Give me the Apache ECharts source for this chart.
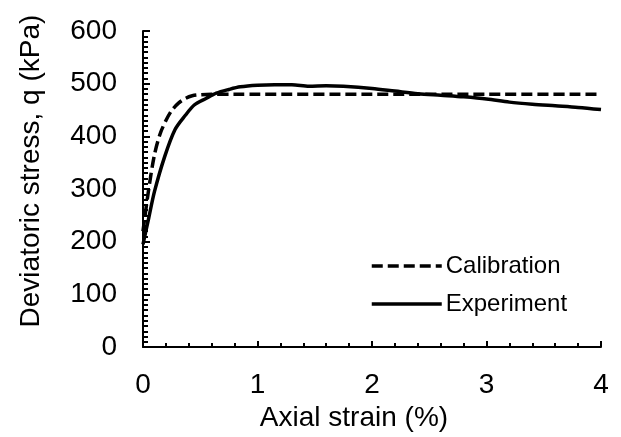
<!DOCTYPE html>
<html>
<head>
<meta charset="utf-8">
<script src="https://cdn.jsdelivr.net/npm/echarts@6/dist/echarts.min.js"></script>
<style>
  html, body { margin: 0; padding: 0; background: #fff; }
  #chart { width: 621px; height: 437px; }
</style>
</head>
<body>
<div id="chart"></div>
<script>
// axial strain (%) / deviatoric stress q (kPa)
const expStrain = [0, 0.05, 0.1, 0.19, 0.28, 0.37, 0.45, 0.55, 0.64, 0.75, 0.85, 1.0, 1.15, 1.3, 1.45, 1.6, 1.75, 2.0, 2.2, 2.4, 2.6, 2.8, 3.0, 3.2, 3.4, 3.6, 3.8, 4.0];
const expStress = [195, 245, 295, 362, 413, 440, 460, 472, 482, 489, 494, 497, 498, 498, 495, 496, 495, 491, 486, 481, 478, 475, 471, 465, 461, 458, 455, 451];
const calStrain = [0, 0.05, 0.1, 0.15, 0.2, 0.25, 0.31, 0.37, 0.43, 0.5, 0.6, 0.8, 1.0, 2.0, 3.0, 4.0];
const calStress = [220, 300, 365, 405, 430, 449, 463, 472, 477, 479, 480, 480, 480, 480, 480, 480];
const seriesNames = ['Calibration', 'Experiment'];

const zip = (xs, ys) => xs.map((x, i) => [x, ys[i]]);
const font = 'Liberation Sans, Arial, sans-serif';

const chart = echarts.init(document.getElementById('chart'));
chart.setOption({
  animation: false,
  grid: { left: 143, right: 20, top: 31, bottom: 89 },
  legend: {
    orient: 'vertical',
    left: 365,
    top: 249,
    itemWidth: 70,
    itemHeight: 14,
    itemGap: 14,
    itemStyle: { opacity: 0 },
    lineStyle: { width: 3.5 },
    textStyle: { fontFamily: font, fontSize: 24, color: '#000', padding: [0, 0, 0, -1] },
    data: seriesNames
  },
  xAxis: {
    type: 'value',
    min: 0,
    max: 4,
    interval: 1,
    name: 'Axial strain (%)',
    nameLocation: 'middle',
    nameGap: 55,
    nameTextStyle: { fontFamily: font, fontSize: 28, color: '#000', padding: [0, 36, 0, 0] },
    axisLine: { lineStyle: { color: '#000', width: 2 } },
    axisTick: { inside: true, length: 6, lineStyle: { color: '#000', width: 2 } },
    minorTick: { show: true, splitNumber: 5, length: 4, lineStyle: { color: '#000', width: 2 } },
    axisLabel: { fontFamily: font, fontSize: 28, color: '#000', margin: 24 },
    splitLine: { show: false }
  },
  yAxis: {
    type: 'value',
    min: 0,
    max: 600,
    interval: 100,
    name: 'Deviatoric stress, q (kPa)',
    nameLocation: 'middle',
    nameGap: 98,
    nameTextStyle: { fontFamily: font, fontSize: 28, color: '#000', padding: [0, 0, 0, 36] },
    axisLine: { show: true, lineStyle: { color: '#000', width: 2 } },
    axisTick: { show: true, inside: true, length: 7, lineStyle: { color: '#000', width: 2 } },
    minorTick: { show: true, splitNumber: 10, length: 5, lineStyle: { color: '#000', width: 2 } },
    axisLabel: { fontFamily: font, fontSize: 28, color: '#000', margin: 26 },
    splitLine: { show: false }
  },
  series: [{
    name: seriesNames[0],
    type: 'line',
    showSymbol: false,
    symbol: 'none',
    smooth: 0.3,
    data: zip(calStrain, calStress),
    lineStyle: { color: '#000', width: 3.5, type: [11, 5] },
    itemStyle: { color: '#000' }
  }, {
    name: seriesNames[1],
    type: 'line',
    showSymbol: false,
    symbol: 'none',
    smooth: 0.3,
    data: zip(expStrain, expStress),
    lineStyle: { color: '#000', width: 3.5 },
    itemStyle: { color: '#000' }
  }]
});
</script>
</body>
</html>
